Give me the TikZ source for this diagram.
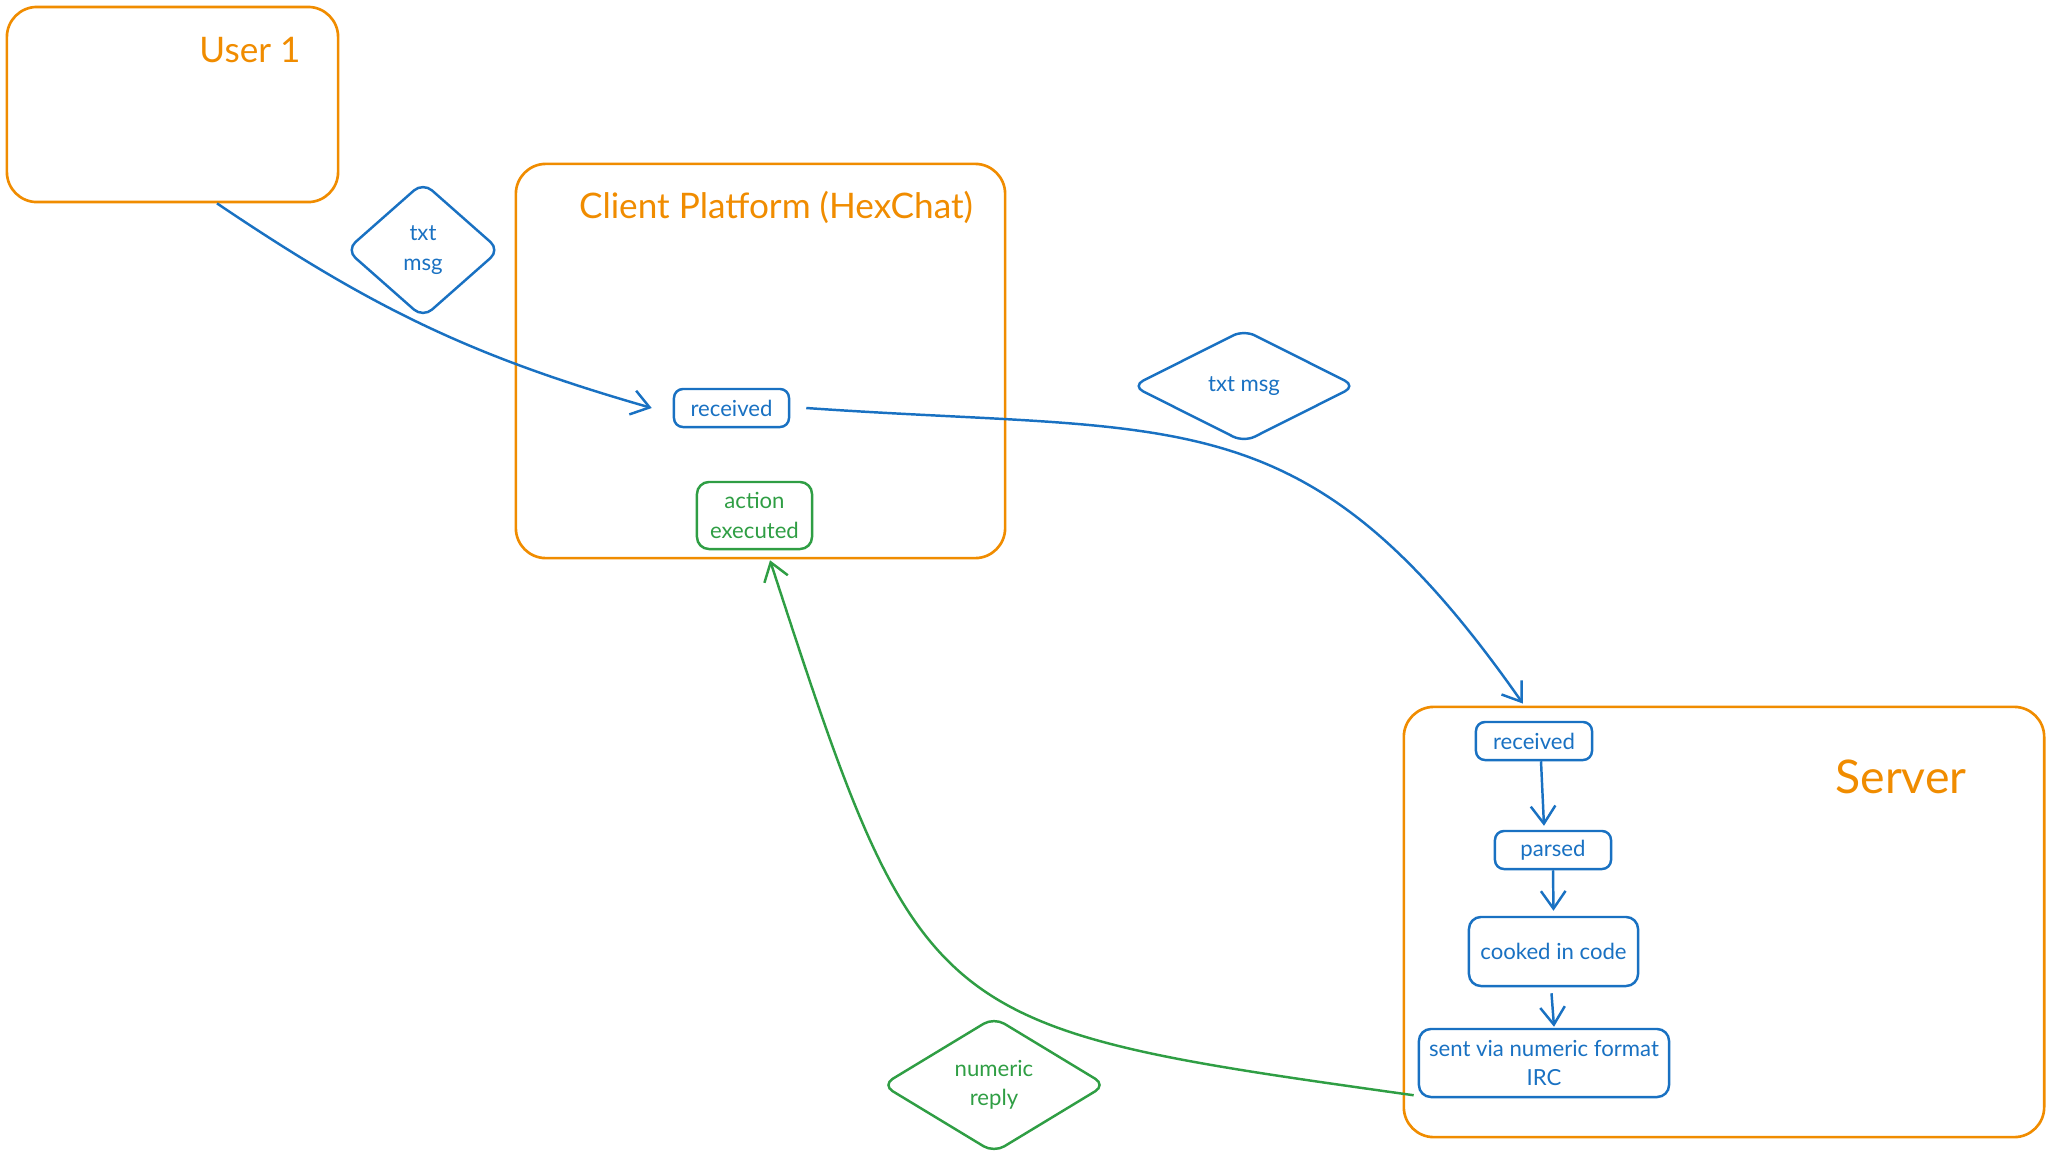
\documentclass[tikz,border=0pt]{standalone}
\usepackage{fontspec}
\setmainfont{Lato}
\usetikzlibrary{shapes.geometric,arrows.meta}
\definecolor{orng}{HTML}{F08C00}
\definecolor{blu}{HTML}{1971C2}
\definecolor{grn}{HTML}{2F9E44}
\tikzset{
  frame/.style={draw=orng,line width=0.75pt,rounded corners=0.3cm,inner sep=0pt},
  title/.style={text=orng,font=\fontsize{10}{12}\selectfont,inner sep=0pt},
  bigtitle/.style={text=orng,font=\fontsize{13.2}{15}\selectfont,inner sep=0pt},
  bluebox/.style={draw=blu,text=blu,line width=0.7pt,rounded corners=0.09cm,inner sep=0pt,align=center,font=\fontsize{6.3}{8.3}\selectfont},
  greenbox/.style={draw=grn,text=grn,line width=0.7pt,rounded corners=0.12cm,inner sep=0pt,align=center,font=\fontsize{6.3}{8.3}\selectfont},
  dmnd/.style={shape=diamond,rounded corners=0.12cm,line width=0.7pt,inner sep=0pt,align=center,font=\fontsize{6.3}{8.3}\selectfont},
  barb/.style={-{Straight Barb[length=5pt,width=7pt,line width=0.7pt]},line width=0.7pt},
}
\begin{document}
\begin{tikzpicture}[x=0.01cm,y=-0.01cm]
\useasboundingbox (0,0) rectangle (2047,1160);
% frames
\node[frame,minimum width=3.31cm,minimum height=1.95cm] (user) at (172.5,104.5) {};
\node[title] (usert) at (250,50) {User 1};
\node[frame,minimum width=4.89cm,minimum height=3.94cm] (client) at (760.5,361) {};
\node[title] (clientt) at (776,207) {Client Platform (HexChat)};
\node[frame,minimum width=6.40cm,minimum height=4.30cm] (server) at (1724,922) {};
\node[bigtitle] (servert) at (1901,777) {Server};
% inner boxes
\node[bluebox,minimum width=1.15cm,minimum height=0.38cm] (recvC) at (731.5,408) {received};
\node[greenbox,minimum width=1.15cm,minimum height=0.67cm] (action) at (754.5,515.5) {action\\executed};
\node[bluebox,minimum width=1.16cm,minimum height=0.38cm] (recvS) at (1534,741) {received};
\node[bluebox,minimum width=1.16cm,minimum height=0.38cm] (parsed) at (1553,850) {parsed};
\node[bluebox,rounded corners=0.12cm,minimum width=1.69cm,minimum height=0.69cm] (cooked) at (1553.5,951.5) {cooked in code};
\node[bluebox,rounded corners=0.12cm,minimum width=2.50cm,minimum height=0.68cm] (sent) at (1544,1063) {sent via numeric format\\IRC};
% diamonds
\node[dmnd,draw=blu,text=blu,minimum width=1.54cm,minimum height=1.36cm] (d1) at (423,250) {txt\\msg};
\node[dmnd,draw=blu,text=blu,minimum width=2.24cm,minimum height=1.13cm] (d2) at (1244,386) {txt msg};
\node[dmnd,draw=grn,text=grn,minimum width=2.24cm,minimum height=1.36cm] (d3) at (994,1085) {numeric\\reply};
% connectors
\draw[barb,blu] ([xshift=0.445cm]user.south) to[out=-34,in=164] ([xshift=-0.21cm]recvC.west);
\draw[barb,blu] ([xshift=0.16cm]recvC.east) to[out=-4,in=125,looseness=1.25] ([xshift=-2.01cm,yshift=0.02cm]server.north);
\draw[barb,blu] ([xshift=0.07cm]recvS.south) -- ([xshift=-0.09cm,yshift=0.04cm]parsed.north);
\draw[barb,blu] (parsed.south) -- ([yshift=0.05cm]cooked.north);
\draw[barb,blu] ([xshift=-0.02cm,yshift=-0.06cm]cooked.south) -- ([xshift=0.1cm,yshift=0.01cm]sent.north);
\draw[barb,grn] ([xshift=-0.04cm,yshift=0.03cm]sent.south west) to[out=172,in=-72,looseness=1.5] ([xshift=0.155cm,yshift=-0.10cm]action.south);
\end{tikzpicture}
\end{document}
